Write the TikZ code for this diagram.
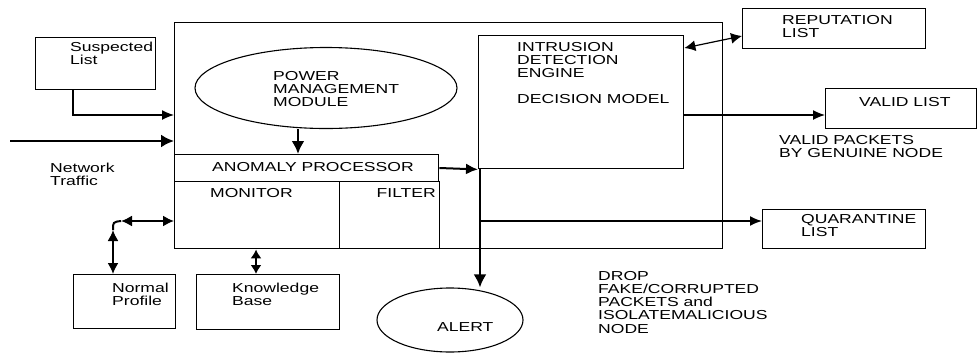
\documentclass[tikz,border=0pt]{standalone}
\usepackage{fontspec}
\setmainfont{Liberation Sans}[FakeStretch=1.35]
\usetikzlibrary{shapes.geometric,arrows.meta}
\begin{document}
\begin{tikzpicture}[x=1pt,y=-1pt,
  font={\fontsize{13}{13.2}\selectfont},
  box/.style={draw, line width=1.4pt, inner sep=0pt, anchor=north west},
  oval/.style={draw, ellipse, line width=1.1pt, inner sep=0pt},
  txt/.style={inner sep=0pt, anchor=north west, align=left},
  conn/.style={line width=1.3pt, -{Latex[length=12pt,width=10pt]}},
  heavy/.style={line width=2.6pt, -{Latex[length=13pt,width=13pt]}},
  dbl/.style={line width=1.7pt, {Latex[length=11pt,width=11pt]}-{Latex[length=11pt,width=11pt]}}]
\useasboundingbox (0,0) rectangle (978,354);

% outer system box and its inner blocks
\node[box, minimum width=548pt, minimum height=226pt] (sys) at (174,22) {};
\node[box, minimum width=264pt, minimum height=27pt] (anom) at (174,154) {};
\node[box, minimum width=165pt, minimum height=67pt] (mon) at (174,181) {};
\node[box, minimum width=100pt, minimum height=67pt] (filt) at (339,181) {};
\node[box, minimum width=205pt, minimum height=133pt] (ide) at (478,35) {};
\node[oval, minimum width=262pt, minimum height=81pt] (pmm) at (326,88) {};

% external lists and stores
\node[box, minimum width=120pt, minimum height=52pt] (susp) at (35,37) {};
\node[box, minimum width=183pt, minimum height=40pt] (rep) at (742,8) {};
\node[box, minimum width=151pt, minimum height=40pt] (valid) at (825,88) {};
\node[box, minimum width=163pt, minimum height=39pt] (quar) at (762,209) {};
\node[box, minimum width=102pt, minimum height=54pt] (np) at (73,274) {};
\node[box, minimum width=143pt, minimum height=55pt] (kb) at (196,274) {};
\node[oval, minimum width=146pt, minimum height=64pt] (alert) at (450,320) {};

% labels
\node[txt] (tsusp) at (70,42) {Suspected\\List};
\node[txt] (tnet) at (50,163) {Network\\Traffic};
\node[txt] (tpmm) at (273,71) {POWER\\MANAGEMENT\\MODULE};
\node[txt] (tanom) at (212,162) {ANOMALY PROCESSOR};
\node[txt] (tmon) at (210,188) {MONITOR};
\node[txt, anchor=north east] (tfilt) at (436,188) {FILTER};
\node[txt] (tide) at (517,42) {INTRUSION\\DETECTION\\ENGINE\\[13pt]DECISION MODEL};
\node[txt] (trep) at (782,15) {REPUTATION\\LIST};
\node[txt] (tvalid) at (859,97) {VALID LIST};
\node[txt] (tvp) at (779,135) {VALID PACKETS\\BY GENUINE NODE};
\node[txt] (tquar) at (801,214) {QUARANTINE\\LIST};
\node[txt] (tnp) at (112,283) {Normal\\Profile};
\node[txt] (tkb) at (232,283) {Knowledge\\Base};
\node[txt] (talert) at (437,322) {ALERT};
\node[txt] (tdrop) at (598,271) {DROP\\FAKE/CORRUPTED\\PACKETS and\\ISOLATEMALICIOUS\\NODE};

% helper points for free ends and bends
\coordinate (netin) at (10,141);
\coordinate (bend) at (113,230);
\coordinate (bendend) at (121,221);
\coordinate (split) at (480,168);

% inputs to the system
\draw[conn] (susp.south -| 73,0) |- (sys.west |- 0,115);
\draw[heavy, line width=2.2pt] (netin) -- (sys.west |- netin);
\draw[heavy] (pmm.south -| 298,0) -- (anom.north -| 298,0);

% normal profile exchange with the monitor
\draw[dbl] (np.north -| bend) -- (bend);
\draw[line width=2pt] (bend) .. controls (113,222) .. (bendend);
\draw[dbl] (bendend) -- (mon.west |- bendend);

% knowledge base exchange
\draw[dbl, {Latex[length=9pt,width=11pt]}-{Latex[length=9pt,width=11pt]}] (kb.north -| 256,0) -- (sys.south -| 256,0);

% anomaly processor to the detection engine
\draw[line width=2pt, -{Latex[length=12pt,width=11pt]}] (anom.east |- split) -- (ide.south west);
\draw[heavy] (split) -- (alert.north -| split);
\draw[conn, line width=1.7pt] (split |- 0,221) -- (quar.west |- 0,221);

% detection engine outputs
\draw[conn] (ide.east |- 0,115) -- (valid.west |- 0,115);
\draw[dbl, line width=1.2pt] (ide.east |- 0,48) -- (rep.west |- 0,36);
\end{tikzpicture}
\end{document}
